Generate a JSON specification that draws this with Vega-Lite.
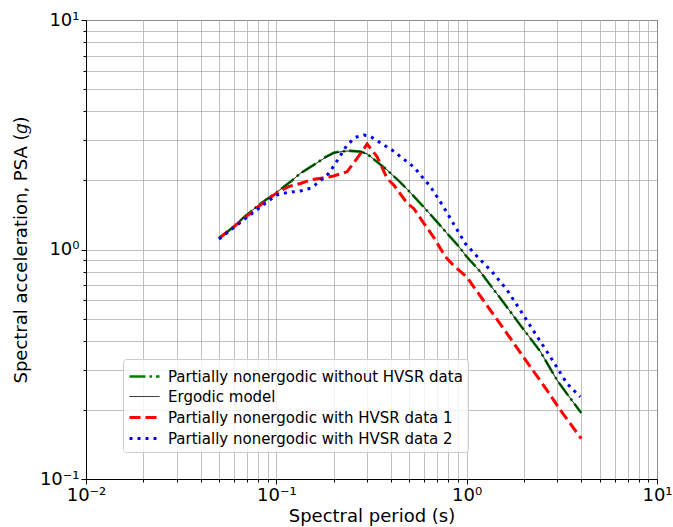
{
  "$schema": "https://vega.github.io/schema/vega-lite/v6.json",
  "width": 571,
  "height": 459,
  "autosize": {"type": "none"},
  "padding": {"left": 86, "top": 20, "right": 16, "bottom": 48},
  "config": {
    "font": "DejaVu Sans",
    "view": {"stroke": "black", "strokeWidth": 1},
    "axis": {
      "domainColor": "black",
      "tickColor": "black",
      "labelColor": "black",
      "titleColor": "black",
      "gridColor": "#b0b0b0",
      "gridWidth": 0.8,
      "labelFont": "DejaVu Sans",
      "titleFont": "DejaVu Sans",
      "labelFontSize": 18,
      "titleFontSize": 18,
      "titleFontWeight": "normal"
    }
  },
  "data": {
    "values": [
      {"series": "Partially nonergodic without HVSR data", "T": 0.05, "psa": 1.12},
      {"series": "Partially nonergodic without HVSR data", "T": 0.06, "psa": 1.26},
      {"series": "Partially nonergodic without HVSR data", "T": 0.068, "psa": 1.39},
      {"series": "Partially nonergodic without HVSR data", "T": 0.083, "psa": 1.59},
      {"series": "Partially nonergodic without HVSR data", "T": 0.1, "psa": 1.77},
      {"series": "Partially nonergodic without HVSR data", "T": 0.12, "psa": 1.99},
      {"series": "Partially nonergodic without HVSR data", "T": 0.134, "psa": 2.15},
      {"series": "Partially nonergodic without HVSR data", "T": 0.15, "psa": 2.28},
      {"series": "Partially nonergodic without HVSR data", "T": 0.164, "psa": 2.39},
      {"series": "Partially nonergodic without HVSR data", "T": 0.18, "psa": 2.52},
      {"series": "Partially nonergodic without HVSR data", "T": 0.2, "psa": 2.64},
      {"series": "Partially nonergodic without HVSR data", "T": 0.22, "psa": 2.68},
      {"series": "Partially nonergodic without HVSR data", "T": 0.245, "psa": 2.69},
      {"series": "Partially nonergodic without HVSR data", "T": 0.277, "psa": 2.67},
      {"series": "Partially nonergodic without HVSR data", "T": 0.3, "psa": 2.61},
      {"series": "Partially nonergodic without HVSR data", "T": 0.34, "psa": 2.4},
      {"series": "Partially nonergodic without HVSR data", "T": 0.382, "psa": 2.22},
      {"series": "Partially nonergodic without HVSR data", "T": 0.44, "psa": 1.99},
      {"series": "Partially nonergodic without HVSR data", "T": 0.5, "psa": 1.79},
      {"series": "Partially nonergodic without HVSR data", "T": 0.6, "psa": 1.52},
      {"series": "Partially nonergodic without HVSR data", "T": 0.71, "psa": 1.3},
      {"series": "Partially nonergodic without HVSR data", "T": 0.8, "psa": 1.16},
      {"series": "Partially nonergodic without HVSR data", "T": 0.91, "psa": 1.03},
      {"series": "Partially nonergodic without HVSR data", "T": 1.0, "psa": 0.93},
      {"series": "Partially nonergodic without HVSR data", "T": 1.18, "psa": 0.8},
      {"series": "Partially nonergodic without HVSR data", "T": 1.39, "psa": 0.667},
      {"series": "Partially nonergodic without HVSR data", "T": 1.5, "psa": 0.615},
      {"series": "Partially nonergodic without HVSR data", "T": 1.91, "psa": 0.469},
      {"series": "Partially nonergodic without HVSR data", "T": 2.44, "psa": 0.359},
      {"series": "Partially nonergodic without HVSR data", "T": 2.98, "psa": 0.27},
      {"series": "Partially nonergodic without HVSR data", "T": 3.5, "psa": 0.225},
      {"series": "Partially nonergodic without HVSR data", "T": 4.0, "psa": 0.194},

      {"series": "Ergodic model", "T": 0.05, "psa": 1.12},
      {"series": "Ergodic model", "T": 0.06, "psa": 1.26},
      {"series": "Ergodic model", "T": 0.068, "psa": 1.39},
      {"series": "Ergodic model", "T": 0.083, "psa": 1.59},
      {"series": "Ergodic model", "T": 0.1, "psa": 1.77},
      {"series": "Ergodic model", "T": 0.12, "psa": 1.99},
      {"series": "Ergodic model", "T": 0.134, "psa": 2.15},
      {"series": "Ergodic model", "T": 0.15, "psa": 2.28},
      {"series": "Ergodic model", "T": 0.164, "psa": 2.39},
      {"series": "Ergodic model", "T": 0.18, "psa": 2.51},
      {"series": "Ergodic model", "T": 0.2, "psa": 2.63},
      {"series": "Ergodic model", "T": 0.22, "psa": 2.67},
      {"series": "Ergodic model", "T": 0.245, "psa": 2.69},
      {"series": "Ergodic model", "T": 0.277, "psa": 2.67},
      {"series": "Ergodic model", "T": 0.3, "psa": 2.61},
      {"series": "Ergodic model", "T": 0.34, "psa": 2.4},
      {"series": "Ergodic model", "T": 0.382, "psa": 2.22},
      {"series": "Ergodic model", "T": 0.44, "psa": 1.99},
      {"series": "Ergodic model", "T": 0.5, "psa": 1.79},
      {"series": "Ergodic model", "T": 0.6, "psa": 1.52},
      {"series": "Ergodic model", "T": 0.71, "psa": 1.3},
      {"series": "Ergodic model", "T": 0.8, "psa": 1.16},
      {"series": "Ergodic model", "T": 0.91, "psa": 1.03},
      {"series": "Ergodic model", "T": 1.0, "psa": 0.93},
      {"series": "Ergodic model", "T": 1.18, "psa": 0.8},
      {"series": "Ergodic model", "T": 1.39, "psa": 0.667},
      {"series": "Ergodic model", "T": 1.5, "psa": 0.615},
      {"series": "Ergodic model", "T": 1.91, "psa": 0.469},
      {"series": "Ergodic model", "T": 2.44, "psa": 0.359},
      {"series": "Ergodic model", "T": 2.98, "psa": 0.27},
      {"series": "Ergodic model", "T": 3.5, "psa": 0.225},
      {"series": "Ergodic model", "T": 4.0, "psa": 0.194},

      {"series": "Partially nonergodic with HVSR data 1", "T": 0.05, "psa": 1.12},
      {"series": "Partially nonergodic with HVSR data 1", "T": 0.06, "psa": 1.26},
      {"series": "Partially nonergodic with HVSR data 1", "T": 0.068, "psa": 1.37},
      {"series": "Partially nonergodic with HVSR data 1", "T": 0.083, "psa": 1.57},
      {"series": "Partially nonergodic with HVSR data 1", "T": 0.1, "psa": 1.76},
      {"series": "Partially nonergodic with HVSR data 1", "T": 0.116, "psa": 1.88},
      {"series": "Partially nonergodic with HVSR data 1", "T": 0.134, "psa": 1.94},
      {"series": "Partially nonergodic with HVSR data 1", "T": 0.151, "psa": 2.01},
      {"series": "Partially nonergodic with HVSR data 1", "T": 0.175, "psa": 2.05},
      {"series": "Partially nonergodic with HVSR data 1", "T": 0.2, "psa": 2.09},
      {"series": "Partially nonergodic with HVSR data 1", "T": 0.235, "psa": 2.18},
      {"series": "Partially nonergodic with HVSR data 1", "T": 0.266, "psa": 2.5},
      {"series": "Partially nonergodic with HVSR data 1", "T": 0.3, "psa": 2.88},
      {"series": "Partially nonergodic with HVSR data 1", "T": 0.338, "psa": 2.54},
      {"series": "Partially nonergodic with HVSR data 1", "T": 0.382, "psa": 2.04},
      {"series": "Partially nonergodic with HVSR data 1", "T": 0.414, "psa": 1.91},
      {"series": "Partially nonergodic with HVSR data 1", "T": 0.487, "psa": 1.59},
      {"series": "Partially nonergodic with HVSR data 1", "T": 0.527, "psa": 1.51},
      {"series": "Partially nonergodic with HVSR data 1", "T": 0.6, "psa": 1.29},
      {"series": "Partially nonergodic with HVSR data 1", "T": 0.671, "psa": 1.13},
      {"series": "Partially nonergodic with HVSR data 1", "T": 0.773, "psa": 0.93},
      {"series": "Partially nonergodic with HVSR data 1", "T": 0.855, "psa": 0.85},
      {"series": "Partially nonergodic with HVSR data 1", "T": 1.0, "psa": 0.76},
      {"series": "Partially nonergodic with HVSR data 1", "T": 1.28, "psa": 0.57},
      {"series": "Partially nonergodic with HVSR data 1", "T": 1.63, "psa": 0.43},
      {"series": "Partially nonergodic with HVSR data 1", "T": 2.07, "psa": 0.324},
      {"series": "Partially nonergodic with HVSR data 1", "T": 2.64, "psa": 0.244},
      {"series": "Partially nonergodic with HVSR data 1", "T": 3.1, "psa": 0.2},
      {"series": "Partially nonergodic with HVSR data 1", "T": 4.0, "psa": 0.15},

      {"series": "Partially nonergodic with HVSR data 2", "T": 0.05, "psa": 1.11},
      {"series": "Partially nonergodic with HVSR data 2", "T": 0.06, "psa": 1.25},
      {"series": "Partially nonergodic with HVSR data 2", "T": 0.07, "psa": 1.38},
      {"series": "Partially nonergodic with HVSR data 2", "T": 0.08, "psa": 1.5},
      {"series": "Partially nonergodic with HVSR data 2", "T": 0.09, "psa": 1.62},
      {"series": "Partially nonergodic with HVSR data 2", "T": 0.101, "psa": 1.73},
      {"series": "Partially nonergodic with HVSR data 2", "T": 0.114, "psa": 1.77},
      {"series": "Partially nonergodic with HVSR data 2", "T": 0.134, "psa": 1.8},
      {"series": "Partially nonergodic with HVSR data 2", "T": 0.151, "psa": 1.85},
      {"series": "Partially nonergodic with HVSR data 2", "T": 0.164, "psa": 1.94},
      {"series": "Partially nonergodic with HVSR data 2", "T": 0.189, "psa": 2.15},
      {"series": "Partially nonergodic with HVSR data 2", "T": 0.213, "psa": 2.5},
      {"series": "Partially nonergodic with HVSR data 2", "T": 0.235, "psa": 2.85},
      {"series": "Partially nonergodic with HVSR data 2", "T": 0.26, "psa": 3.08},
      {"series": "Partially nonergodic with HVSR data 2", "T": 0.288, "psa": 3.15},
      {"series": "Partially nonergodic with HVSR data 2", "T": 0.31, "psa": 3.12},
      {"series": "Partially nonergodic with HVSR data 2", "T": 0.338, "psa": 2.98},
      {"series": "Partially nonergodic with HVSR data 2", "T": 0.406, "psa": 2.71},
      {"series": "Partially nonergodic with HVSR data 2", "T": 0.527, "psa": 2.29},
      {"series": "Partially nonergodic with HVSR data 2", "T": 0.645, "psa": 1.88},
      {"series": "Partially nonergodic with HVSR data 2", "T": 0.75, "psa": 1.55},
      {"series": "Partially nonergodic with HVSR data 2", "T": 0.89, "psa": 1.22},
      {"series": "Partially nonergodic with HVSR data 2", "T": 0.985, "psa": 1.06},
      {"series": "Partially nonergodic with HVSR data 2", "T": 1.16, "psa": 0.915},
      {"series": "Partially nonergodic with HVSR data 2", "T": 1.36, "psa": 0.8},
      {"series": "Partially nonergodic with HVSR data 2", "T": 1.63, "psa": 0.666},
      {"series": "Partially nonergodic with HVSR data 2", "T": 1.91, "psa": 0.545},
      {"series": "Partially nonergodic with HVSR data 2", "T": 2.29, "psa": 0.431},
      {"series": "Partially nonergodic with HVSR data 2", "T": 2.86, "psa": 0.324},
      {"series": "Partially nonergodic with HVSR data 2", "T": 3.36, "psa": 0.261},
      {"series": "Partially nonergodic with HVSR data 2", "T": 3.95, "psa": 0.228}
    ]
  },
  "mark": {"type": "line", "strokeCap": "butt", "clip": true},
  "encoding": {
    "x": {
      "field": "T",
      "type": "quantitative",
      "scale": {"type": "log", "domain": [0.01, 10], "nice": false},
      "axis": {
        "title": "Spectral period (s)",
        "values": [0.01, 0.02, 0.03, 0.04, 0.05, 0.06, 0.07, 0.08, 0.09, 0.1, 0.2, 0.3, 0.4, 0.5, 0.6, 0.7, 0.8, 0.9, 1, 2, 3, 4, 5, 6, 7, 8, 9, 10],
        "labelExpr": "datum.value == 0.01 ? '10⁻²' : datum.value == 0.1 ? '10⁻¹' : datum.value == 1 ? '10⁰' : datum.value == 10 ? '10¹' : ''",
        "tickSize": {"condition": {"test": "datum.value == 0.01 || datum.value == 0.1 || datum.value == 1 || datum.value == 10", "value": 5}, "value": 3},
        "labelFlush": false,
        "labelOverlap": false,
        "labelPadding": 2,
        "titlePadding": 3
      }
    },
    "y": {
      "field": "psa",
      "type": "quantitative",
      "scale": {"type": "log", "domain": [0.1, 10], "nice": false},
      "axis": {
        "title": "Spectral acceleration, PSA (𝑔)",
        "values": [0.1, 0.2, 0.3, 0.4, 0.5, 0.6, 0.7, 0.8, 0.9, 1, 2, 3, 4, 5, 6, 7, 8, 9, 10],
        "labelExpr": "datum.value == 0.1 ? '10⁻¹' : datum.value == 1 ? '10⁰' : datum.value == 10 ? '10¹' : ''",
        "tickSize": {"condition": {"test": "datum.value == 0.1 || datum.value == 1 || datum.value == 10", "value": 5}, "value": 3},
        "labelFlush": false,
        "labelOverlap": false,
        "labelPadding": 2,
        "titlePadding": 9
      }
    },
    "color": {
      "field": "series",
      "type": "nominal",
      "sort": null,
      "scale": {
        "domain": ["Partially nonergodic without HVSR data", "Ergodic model", "Partially nonergodic with HVSR data 1", "Partially nonergodic with HVSR data 2"],
        "range": ["#008000", "#000000", "#ff0000", "#0000ff"]
      },
      "legend": {
        "title": null,
        "orient": "none",
        "legendX": 37,
        "legendY": 339,
        "fillColor": "rgba(255,255,255,0.8)",
        "strokeColor": "#cccccc",
        "cornerRadius": 3,
        "padding": 5,
        "labelFontSize": 15,
        "labelFont": "DejaVu Sans",
        "labelColor": "black",
        "labelLimit": 400,
        "symbolType": "M-1,0H1.727",
        "symbolSize": 484,
        "labelOffset": 15,
        "rowPadding": 0
      }
    },
    "strokeDash": {
      "field": "series",
      "type": "nominal",
      "sort": null,
      "scale": {
        "domain": ["Partially nonergodic without HVSR data", "Ergodic model", "Partially nonergodic with HVSR data 1", "Partially nonergodic with HVSR data 2"],
        "range": [[16, 4, 2.5, 4], [1, 0], [11, 5], [3, 5]]
      },
      "legend": null
    },
    "strokeWidth": {
      "field": "series",
      "type": "nominal",
      "sort": null,
      "scale": {
        "type": "ordinal",
        "domain": ["Partially nonergodic without HVSR data", "Ergodic model", "Partially nonergodic with HVSR data 1", "Partially nonergodic with HVSR data 2"],
        "range": [2.6, 1, 3, 3]
      },
      "legend": null
    }
  }
}
